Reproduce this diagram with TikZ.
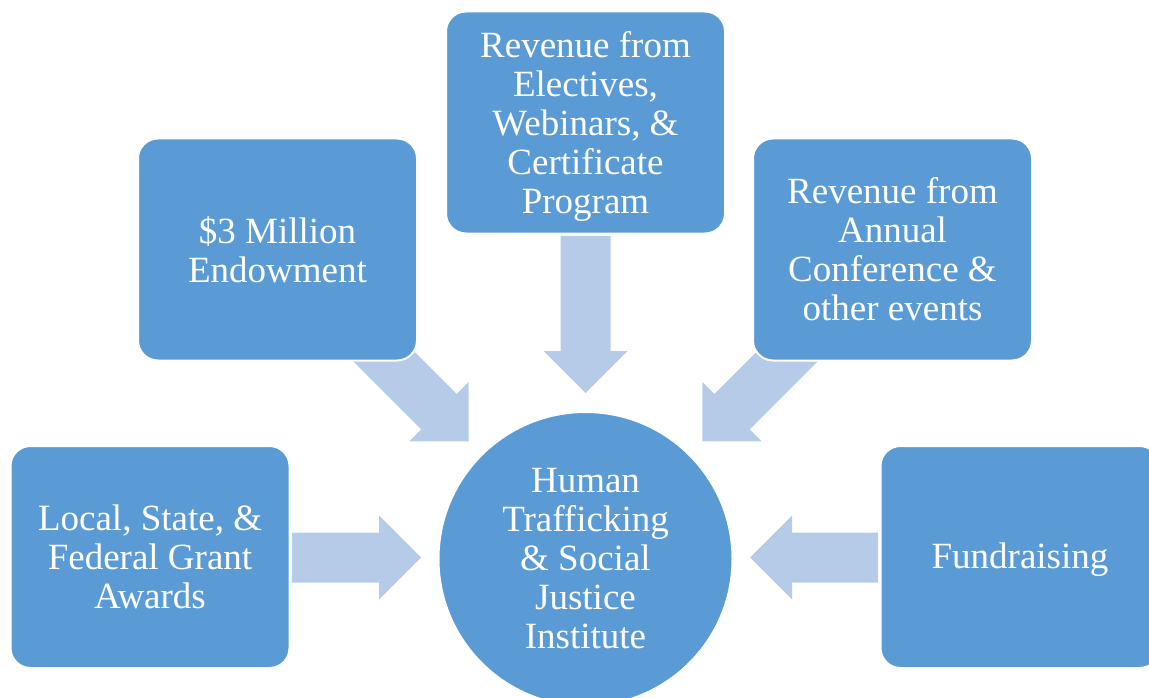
\documentclass[tikz,border=0pt]{standalone}
\usepackage{fontspec}
\setmainfont{Liberation Serif}
\definecolor{boxblue}{HTML}{5B9BD5}
\definecolor{arrowblue}{HTML}{B6CBE8}
\tikzset{
  srcbox/.style={rectangle, rounded corners=20pt, fill=boxblue, draw=white, line width=2pt,
    minimum width=279pt, minimum height=222pt, inner sep=0pt, text=white, align=center,
    font=\fontsize{37}{39}\selectfont},
  hubnode/.style={circle, fill=boxblue, draw=white, line width=2pt, minimum size=294pt,
    inner sep=0pt, text=white, align=center, font=\fontsize{37}{39}\selectfont},
  pics/barrow/.style={code={
    \fill[arrowblue] (0,-25) -- ({#1-42},-25) -- ({#1-42},-42) -- (#1,0)
      -- ({#1-42},42) -- ({#1-42},25) -- (0,25) -- cycle;}}
}
\begin{document}
\begin{tikzpicture}[x=1pt,y=-1pt]
\useasboundingbox (0,0) rectangle (1149,698);
\clip (0,0) rectangle (1149,698);
% block arrows
\pic[rotate=0]    at (292,557.5) {barrow=129};
\pic[rotate=180]  at (878,557.5) {barrow=128};
\pic[rotate=-90]  at (585.5,236) {barrow=157};
\pic[rotate=-45]  at (360,332.7) {barrow=153.7};
\pic[rotate=-135] at (811,332.7) {barrow=153.7};
% boxes
\node[srcbox] (grants) at (150,557) {Local, State, \&\\Federal Grant\\Awards};
\node[srcbox] (endow) at (277.5,249.5) {\$3 Million\\Endowment};
\node[srcbox] (elect) at (585.5,122.5) {\rule{0pt}{34pt}Revenue from\\Electives,\\Webinars, \&\\Certificate\\Program};
\node[srcbox] (conf) at (892.5,249.5) {Revenue from\\Annual\\Conference \&\\other events};
\node[srcbox] (fund) at (1020,557) {\rule{0pt}{31pt}Fundraising};
\node[hubnode] (hub) at (585.5,559) {Human\\Trafficking\\\& Social\\Justice\\Institute};
\end{tikzpicture}
\end{document}
